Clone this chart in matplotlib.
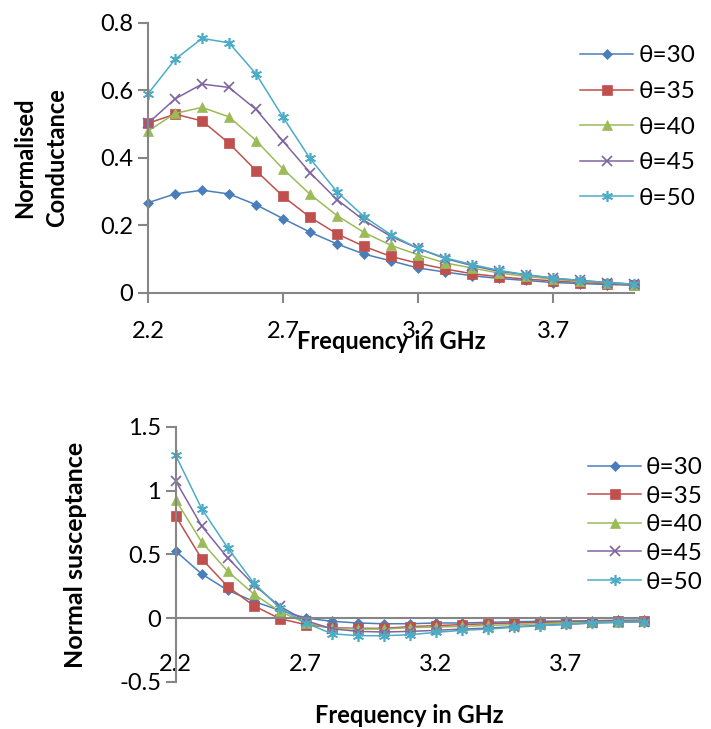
import matplotlib
matplotlib.use("Agg")
from matplotlib import pyplot as plt

plt.rcParams['font.family'] = ['Lato', 'DejaVu Sans']

# frequency points (GHz)
freq = [2.2, 2.3, 2.4, 2.5, 2.6, 2.7, 2.8, 2.9, 3.0, 3.1,
        3.2, 3.3, 3.4, 3.5, 3.6, 3.7, 3.8, 3.9, 4.0]
labels = ['θ=30', 'θ=35', 'θ=40', 'θ=45', 'θ=50']

# normalised conductance
g30 = [0.267, 0.293, 0.304, 0.293, 0.261, 0.220, 0.180, 0.145, 0.115, 0.095,
       0.074, 0.062, 0.051, 0.043, 0.037, 0.031, 0.028, 0.025, 0.023]
g35 = [0.502, 0.529, 0.509, 0.443, 0.362, 0.286, 0.224, 0.175, 0.138, 0.108,
       0.088, 0.071, 0.057, 0.048, 0.041, 0.036, 0.031, 0.028, 0.024]
g40 = [0.479, 0.531, 0.549, 0.521, 0.451, 0.367, 0.292, 0.229, 0.179, 0.141,
       0.113, 0.089, 0.074, 0.059, 0.049, 0.041, 0.034, 0.030, 0.025]
g45 = [0.502, 0.574, 0.618, 0.608, 0.543, 0.449, 0.356, 0.276, 0.215, 0.167,
       0.132, 0.102, 0.081, 0.064, 0.054, 0.044, 0.037, 0.031, 0.026]
g50 = [0.589, 0.691, 0.753, 0.740, 0.648, 0.520, 0.398, 0.299, 0.226, 0.172,
       0.132, 0.104, 0.084, 0.067, 0.054, 0.044, 0.037, 0.031, 0.026]

# normal susceptance
b30 = [0.525, 0.346, 0.218, 0.131, 0.060, 0.000, -0.026, -0.039, -0.045, -0.045,
       -0.039, -0.039, -0.034, -0.029, -0.026, -0.024, -0.021, -0.018, -0.016]
b35 = [0.800, 0.465, 0.247, 0.097, -0.005, -0.052, -0.076, -0.081, -0.081, -0.068,
       -0.060, -0.052, -0.045, -0.039, -0.034, -0.031, -0.029, -0.026, -0.024]
b40 = [0.927, 0.596, 0.367, 0.189, 0.052, -0.039, -0.079, -0.087, -0.087, -0.076,
       -0.071, -0.066, -0.058, -0.052, -0.045, -0.039, -0.034, -0.029, -0.026]
b45 = [1.076, 0.722, 0.472, 0.262, 0.092, -0.021, -0.084, -0.105, -0.110, -0.105,
       -0.097, -0.087, -0.079, -0.068, -0.058, -0.050, -0.039, -0.034, -0.029]
b50 = [1.278, 0.858, 0.551, 0.276, 0.079, -0.039, -0.123, -0.139, -0.139, -0.131,
       -0.113, -0.097, -0.087, -0.073, -0.060, -0.050, -0.039, -0.034, -0.029]

xticks = [2.2, 2.7, 3.2, 3.7]

cores = ['#4A7EBB', '#C0504D', '#9BBB59', '#8064A2', '#4BACC6']
marcadores = ['D', 's', '^', 'x', (6, 2, 0)]
tamanhos = [5, 7, 7, 7, 8]
eixo_cor = '#868686'

fig = plt.figure(figsize=(7.11, 7.29), dpi=100)


def estilo(ax):
    for s in ['top', 'right']:
        ax.spines[s].set_visible(False)
    for s in ['left', 'bottom']:
        ax.spines[s].set_color(eixo_cor)
        ax.spines[s].set_linewidth(1.5)
    ax.tick_params(axis='both', colors=eixo_cor, labelcolor='black',
                   labelsize=17, length=7, width=1.5)
    ax.set_xticks(xticks)
    ax.set_xticklabels([str(t) for t in xticks])


def desenha(ax, series):
    for serie, c, m, ms, lab in zip(series, cores, marcadores, tamanhos, labels):
        fino = not isinstance(m, str) or m == 'x'
        ax.plot(freq, serie, color=c, marker=m, markersize=ms, lw=1.1, label=lab,
                markeredgewidth=1.2 if fino else 0.5, clip_on=False)


# grafico de cima
ax1 = fig.add_axes([0.2082, 0.5981, 0.6835, 0.371])
desenha(ax1, [g30, g35, g40, g45, g50])
ax1.set_xlim(2.2, 4.0)
ax1.set_ylim(0, 0.8)
ax1.set_yticks([0, 0.2, 0.4, 0.6, 0.8])
ax1.set_yticklabels(['0', '0.2', '0.4', '0.6', '0.8'])
estilo(ax1)
ax1.tick_params(axis='x', pad=13)
ax1.legend(loc='upper left', bbox_to_anchor=(0.802, 0.951), bbox_transform=fig.transFigure,
           frameon=False, fontsize=17.5, handlelength=2.2, handletextpad=0.2,
           labelspacing=0.6, borderaxespad=0)

fig.text(0.034, 0.784, 'Normalised', rotation=90, fontsize=17, fontweight='bold',
         ha='center', va='center')
fig.text(0.079, 0.784, 'Conductance', rotation=90, fontsize=17, fontweight='bold',
         ha='center', va='center')
fig.text(0.551, 0.531, 'Frequency in GHz', fontsize=17, fontweight='bold',
         ha='center', va='center')

# grafico de baixo
ax2 = fig.add_axes([0.2471, 0.0649, 0.6582, 0.3494])
desenha(ax2, [b30, b35, b40, b45, b50])
ax2.set_xlim(2.2, 4.0)
ax2.set_ylim(-0.5, 1.5)
ax2.set_yticks([-0.5, 0, 0.5, 1, 1.5])
ax2.set_yticklabels(['-0.5', '0', '0.5', '1', '1.5'])
estilo(ax2)
ax2.spines['bottom'].set_position(('data', 0))
ax2.tick_params(axis='x', pad=19)
ax2.legend(loc='upper left', bbox_to_anchor=(0.813, 0.386), bbox_transform=fig.transFigure,
           frameon=False, fontsize=17.5, handlelength=2.2, handletextpad=0.2,
           labelspacing=0.31, borderaxespad=0)

fig.text(0.106, 0.239, 'Normal susceptance', rotation=90, fontsize=18, fontweight='bold',
         ha='center', va='center')
fig.text(0.575, 0.019, 'Frequency in GHz', fontsize=17, fontweight='bold',
         ha='center', va='center')

fig.savefig('out.png', dpi=100)
